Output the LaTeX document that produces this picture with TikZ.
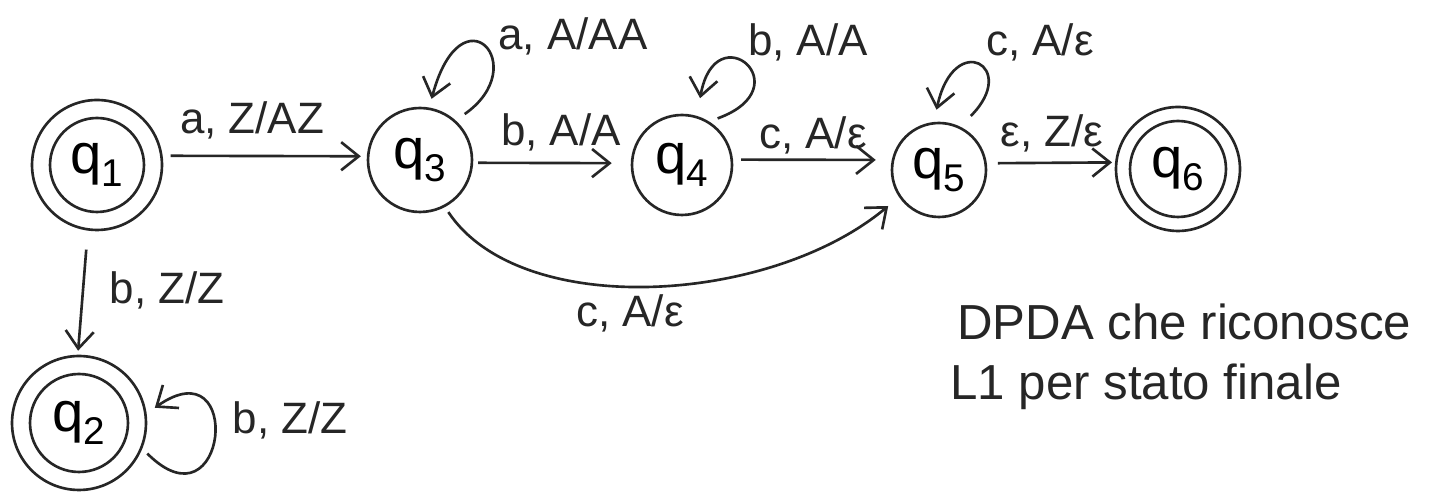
\documentclass[tikz,border=0pt]{standalone}
\usepackage{fontspec}
\setmainfont{Liberation Sans}
\usetikzlibrary{arrows.meta}
% state name: q with a large lowered index
\newcommand\stname[1]{q\raisebox{-0.22em}{\fontsize{22}{24}\selectfont #1}}
\begin{document}
\begin{tikzpicture}[x=0.02cm, y=-0.02cm,
  ink/.style={draw=black!85, line width=1.5pt},
  state/.style={ink, circle, inner sep=0pt, font=\fontsize{32}{36}\selectfont},
  arr/.style={ink, -{Straight Barb[length=10pt,width=16pt]}},
  lab/.style={font=\fontsize{25}{29}\selectfont, text=black!85, inner sep=0pt},
  note/.style={font=\fontsize{28}{32}\selectfont, text=black!85, inner sep=0pt, anchor=base west},
]
\fill[white] (0,0) rectangle (1431,492);
\path[use as bounding box] (0,0) rectangle (1431,492);

% states
\node[state, minimum size=1.88cm] (q1) at (97,165) {\stname{1}};
\node[state, minimum size=2.6cm] (q1o) at (q1) {};
\node[state, minimum size=1.96cm] (q2) at (79,423) {\stname{2}};
\node[state, minimum size=2.68cm] (q2o) at (q2) {};
\node[state, minimum size=2.08cm] (q3) at (420,160) {\stname{3}};
\node[state, minimum size=2.0cm] (q4) at (682,165) {\stname{4}};
\node[state, minimum size=1.88cm] (q5) at (939,170) {\stname{5}};
\node[state, minimum size=1.92cm] (q6) at (1178,169) {\stname{6}};
\node[state, minimum size=2.48cm] (q6o) at (q6) {};

% transitions
\draw[arr, shorten <=0.16cm, shorten >=0.12cm] (q1o.8) -- (q3.176);
\draw[arr, shorten <=0.1cm, shorten >=0.38cm] (q3.-3) -- (q4.178);
\draw[arr, shorten <=0.16cm, shorten >=0.32cm] (q4.6) -- (q5.168);
\draw[arr, shorten <=0.22cm, shorten >=0.06cm] (q5.8) -- (q6o.174);
\draw[arr, shorten <=0.38cm, shorten >=0.08cm] (q1o.-98) -- (q2o.91);
\draw[arr, shorten <=0.12cm, shorten >=0.28cm]
  (q3.-62) .. controls (520,320) and (770,305) .. (q5.214);

% self loops
\draw[arr, shorten <=0.22cm, shorten >=0.18cm]
  (q3.48) .. controls +(35:1.9cm) and +(75:2.5cm) .. (q3.80);
\draw[arr, shorten <=0.18cm, shorten >=0.36cm]
  (q4.58) .. controls +(20:2cm) and +(80:2.1cm) .. (q4.73);
\draw[arr, shorten <=0.3cm, shorten >=0.25cm]
  (q5.64) .. controls +(45:1.7cm) and +(78:1.9cm) .. (q5.96);
\draw[arr, shorten <=0.14cm, shorten >=0.2cm]
  (q2o.-22) .. controls +(-45:2.4cm) and +(35:2.4cm) .. (q2o.8);

% transition labels
\node[lab] (l13) at (252,120) {a, Z/AZ};
\node[lab] (l33) at (573,36) {a, A/AA};
\node[lab] (l34) at (561,132) {b, A/A};
\node[lab] (l44) at (808,42) {b, A/A};
\node[lab] (l45) at (813,135) {c, A/ε};
\node[lab] (l55) at (1040,42) {c, A/ε};
\node[lab] (l56) at (1052,133) {ε, Z/ε};
\node[lab] (l35) at (630,313) {c, A/ε};
\node[lab] (l12) at (167,290) {b, Z/Z};
\node[lab] (l22) at (290,420) {b, Z/Z};

% caption
\node[note] (n1) at (957,340) {DPDA che riconosce};
\node[note] (n2) at (950,400) {L1 per stato finale};
\end{tikzpicture}
\end{document}
